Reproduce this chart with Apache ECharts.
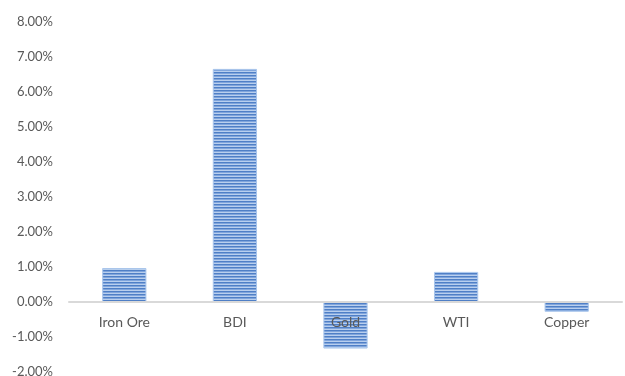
<!DOCTYPE html>
<html><head><meta charset="utf-8">
<script src="https://cdn.jsdelivr.net/npm/echarts@6/dist/echarts.min.js"></script>
<style>html,body{margin:0;padding:0;background:#fff}#c{width:625px;height:376px}</style>
</head><body><div id="c"></div>
<script>
var categories = ['Iron Ore', 'BDI', 'Gold', 'WTI', 'Copper'];
var values = [0.97, 6.66, -1.33, 0.86, -0.28];
var yTickMin = -2, yTickMax = 8, yTickStep = 1;

var pc = document.createElement('canvas');
pc.width = 4; pc.height = 3;
var g = pc.getContext('2d');
g.fillStyle = '#4f7fc6'; g.fillRect(0,0,4,1);
g.fillStyle = '#80a5dc'; g.fillRect(0,1,4,1);
g.fillStyle = '#b9cfee'; g.fillRect(0,2,4,1);

var H = 376, gridBottom = 4;
var chart = echarts.init(document.getElementById('c'), null, {renderer:'canvas'});
chart.setOption({
  animation: false,
  grid: {left: 69, right: 3, top: 22, bottom: gridBottom, containLabel: false, outerBoundsMode: 'none'},
  xAxis: {
    type: 'category', data: categories, z: 10, offset: 0,
    axisLine: {onZero: false, lineStyle: {color: '#d9d9d9', width: 2}},
    axisTick: {show: false},
    axisLabel: {color: '#595959', fontSize: 14, fontFamily: 'Lato, "Open Sans", sans-serif', margin: 13}
  },
  yAxis: {
    type: 'value', min: yTickMin, max: yTickMax, interval: yTickStep,
    splitLine: {show: false}, axisLine: {show: false}, axisTick: {show: false},
    axisLabel: {color: '#595959', fontSize: 13, fontFamily: 'Lato, "Open Sans", sans-serif', margin: 16,
      formatter: function(v){ return v.toFixed(2) + '%'; }}
  },
  series: [{
    type: 'bar', data: values, barWidth: '40%', z: 2,
    itemStyle: {color: {image: pc, repeat: 'repeat'}, borderColor: '#a9c6ec', borderWidth: 1}
  }]
});
var zeroY = chart.convertToPixel({yAxisIndex: 0}, 0);
chart.setOption({xAxis: {offset: -((H - gridBottom) - zeroY)}});
</script></body></html>
